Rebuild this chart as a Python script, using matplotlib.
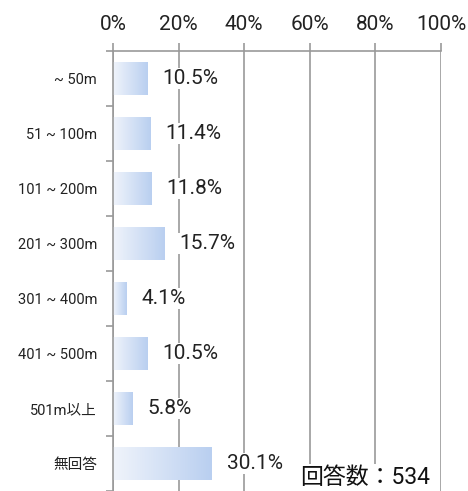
import numpy as np
import matplotlib
matplotlib.use('Agg')
import matplotlib.pyplot as plt
from matplotlib.colors import LinearSegmentedColormap

plt.rcParams['font.family'] = ['Roboto', 'Noto Sans CJK JP', 'DejaVu Sans']

categories = ['~ 50m', '51 ~ 100m', '101 ~ 200m', '201 ~ 300m', '301 ~ 400m',
              '401 ~ 500m', '501m以上', '無回答']
values = [10.5, 11.4, 11.8, 15.7, 4.1, 10.5, 5.8, 30.1]
xticks = [0, 20, 40, 60, 80, 100]
xlabels = ['0%', '20%', '40%', '60%', '80%', '100%']
n_resp = 534

gcol = '#999999'
cmap = LinearSegmentedColormap.from_list('bar', ['#f0f4fb', '#b9cff0'])

fig = plt.figure(figsize=(4.68, 4.91), dpi=100)
ax = fig.add_axes([113/468, 0.0, 328/468, 440/491])

n = len(categories)

for x in xticks:
    ax.axvline(x, color=gcol, lw=1.2, zorder=1)

grad = np.linspace(0, 1, 256).reshape(1, -1)
bh = 0.6
for i, v in enumerate(values):
    yc = i + 0.5
    ax.imshow(grad, cmap=cmap, aspect='auto', extent=(0, v, yc + bh/2, yc - bh/2),
              zorder=2, interpolation='bilinear')
    ax.text(v + 4.6, yc, f'{v}%', va='center', ha='left', fontsize=15, color='#222222',
            zorder=3, bbox=dict(facecolor='white', edgecolor='none', pad=1))

ax.set_xlim(0, 100)
ax.set_ylim(n, 0)

ax.xaxis.tick_top()
ax.set_xticks(xticks)
ax.set_xticklabels(xlabels, fontsize=15, color='#222222')
ax.tick_params(axis='x', length=6, width=1.2, color=gcol, pad=6)

ax.set_yticks(np.arange(n + 1), minor=False)
ax.set_yticklabels([])
ax.set_yticks(np.arange(n) + 0.5, minor=True)
ax.set_yticklabels(categories, minor=True, fontsize=10.5, color='#222222')
ax.tick_params(axis='y', which='major', length=5, width=1.2, color=gcol)
ax.tick_params(axis='y', which='minor', length=0, pad=11.5)

for s in ['right', 'bottom']:
    ax.spines[s].set_visible(False)
for s in ['top', 'left']:
    ax.spines[s].set_color(gcol)
    ax.spines[s].set_linewidth(1.2)

fig.text(430/468, 1 - 478/491, f'回答数：{n_resp}', ha='right', va='center', fontsize=16.5,
         color='#111111', bbox=dict(facecolor='white', edgecolor='none', pad=2), zorder=5)

fig.savefig('out.png', dpi=100)
